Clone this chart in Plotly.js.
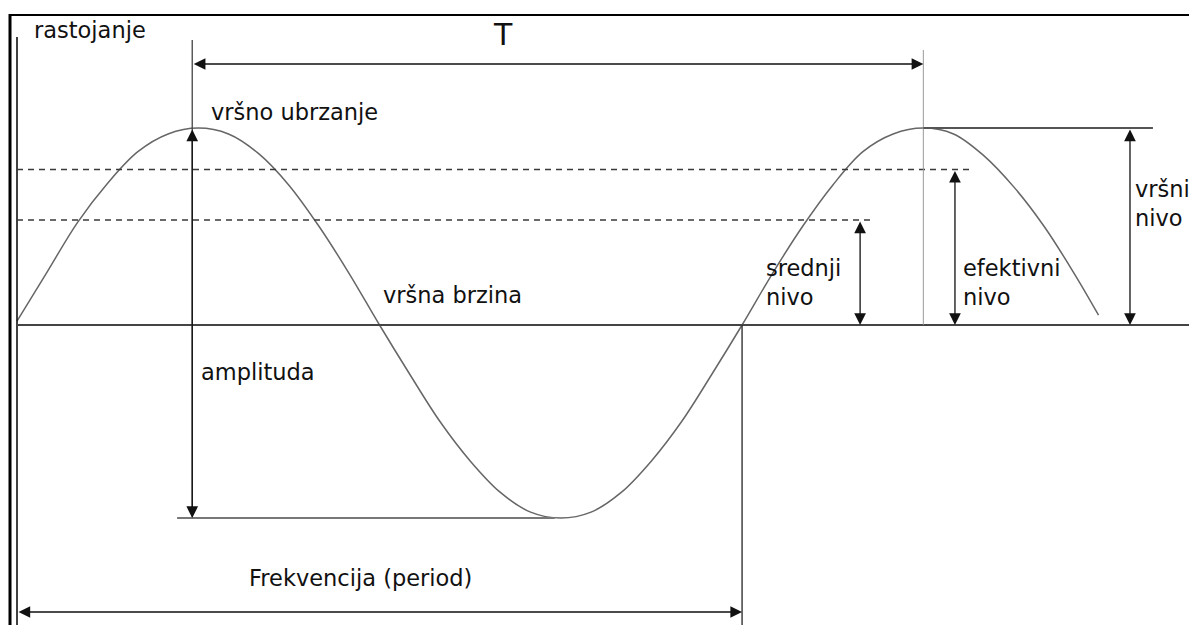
<!DOCTYPE html>
<html>
<head>
<meta charset="utf-8">
<script src="https://cdn.plot.ly/plotly-3.0.1.min.js"></script>
<style>html,body{margin:0;padding:0;background:#fff;}#chart{width:1189px;height:625px;}</style>
</head>
<body>
<div id="chart"></div>
<script>
// ---- data (phase in degrees, displacement in amplitude units) ----
var phase = [0, 15, 30, 45, 60, 75, 90, 105, 120, 135, 150, 165, 180, 195, 210, 225, 240, 255, 270,
             285, 300, 315, 330, 345, 360, 375, 390, 405, 420, 435, 450, 465, 480, 495, 510, 525, 537];
var displacement = [0.02, 0.27, 0.52, 0.72, 0.88, 0.97, 1.0, 0.97, 0.87, 0.71, 0.5, 0.26, 0, -0.25, -0.49, -0.69, -0.85, -0.95, -0.98,
                    -0.95, -0.85, -0.69, -0.49, -0.25, 0, 0.26, 0.5, 0.71, 0.88, 0.97, 1.0, 0.97, 0.86, 0.7, 0.5, 0.26, 0.05];

var peakLevel = 1.0;        // vršni nivo
var rmsLevel = 0.79;        // efektivni nivo
var meanLevel = 0.533;      // srednji nivo
var troughLevel = -0.98;

var periodStart = 0;        // degrees
var periodEnd = 360;
var peakPhase1 = 87;
var peakPhase2 = 450;

var labelTexts = ['rastojanje', 'T', 'vršno ubrzanje', 'vršna brzina', 'amplituda',
                  'Frekvencija (period)', 'srednji<br>nivo', 'efektivni<br>nivo', 'vršni<br>nivo'];

// ---- layout helpers ----
var W = 1189, H = 625;
var xRange = [-8.44, 581.9];
var yRange = [-1.523, 1.650];
function px(xp) { return xp / W; }
function py(yp) { return 1 - yp / H; }

var ink = '#111';
var lineCol = '#3a3a3a';

var trace = {
  x: phase, y: displacement, type: 'scatter', mode: 'lines',
  line: {shape: 'spline', smoothing: 1.0, color: '#666', width: 1.5},
  hoverinfo: 'skip'
};

function seg(x0, y0, x1, y1, color, width, dash) {
  return {type: 'line', xref: 'x', yref: 'y', x0: x0, y0: y0, x1: x1, y1: y1,
          line: {color: color, width: width, dash: dash || 'solid'}, layer: 'above'};
}

var tArrowY = 1.325, topRefY = 1.447, guide2Top = 1.396, yAxisTop = 1.462;
var freqArrowY = -1.457;
var rmsEnd = 474.7, meanEnd = 425, peakLineEnd = 564;
var srednjiX = 418.6, efektivniX = 465.7, vrsniX = 552.6;
var troughLineStart = 79.5, troughLineEnd = 267;

var shapes = [
  // frame
  {type: 'line', xref: 'paper', yref: 'paper', x0: px(10), x1: px(10), y0: 0, y1: py(14), line: {color: '#000', width: 3}},
  {type: 'line', xref: 'paper', yref: 'paper', x0: px(9), x1: 1, y0: py(15), y1: py(15), line: {color: '#000', width: 2}},
  // vertical axis
  seg(periodStart, yAxisTop, periodStart, yRange[0], '#111', 1.6),
  // baseline
  seg(periodStart, 0, xRange[1], 0, '#444', 2),
  // dashed reference levels
  seg(periodStart, rmsLevel, rmsEnd, rmsLevel, lineCol, 1.5, '6px,5px'),
  seg(periodStart, meanLevel, meanEnd, meanLevel, lineCol, 1.5, '6px,5px'),
  // amplitude guide line
  seg(peakPhase1, topRefY, peakPhase1, troughLevel, '#444', 1.3),
  // trough level
  seg(troughLineStart, troughLevel, troughLineEnd, troughLevel, '#777', 2),
  // second peak guide
  seg(peakPhase2, guide2Top, peakPhase2, 0, '#999', 1),
  seg(peakPhase2, peakLevel, peakLineEnd, peakLevel, '#555', 2),
  // end of period guide
  seg(periodEnd, 0, periodEnd, yRange[0], '#333', 1.4)
];

function dblArrow(x0, y0, x1, y1) {
  return {x: x1, y: y1, ax: x0, ay: y0, xref: 'x', yref: 'y', axref: 'x', ayref: 'y',
          text: '', showarrow: true, arrowhead: 2, startarrowhead: 2,
          arrowsize: 1.8, startarrowsize: 1.8, arrowwidth: 1.3, arrowcolor: '#111',
          arrowside: 'end+start', standoff: 0, startstandoff: 0};
}

var annotations = [
  dblArrow(peakPhase1, tArrowY, peakPhase2, tArrowY),
  dblArrow(peakPhase1, peakLevel, peakPhase1, troughLevel),
  dblArrow(srednjiX, meanLevel, srednjiX, 0),
  dblArrow(efektivniX, rmsLevel, efektivniX, 0),
  dblArrow(vrsniX, peakLevel, vrsniX, 0),
  dblArrow(periodStart, freqArrowY, periodEnd, freqArrowY)
];

var labelPos = [
  [33, 30, 'left', 22.5],
  [503, 34, 'center', 30],
  [210, 112, 'left', 22.5],
  [382, 295, 'left', 22.5],
  [200, 372, 'left', 22.5],
  [248, 578, 'left', 22.5],
  [765, 282, 'left', 22.5],
  [962, 282, 'left', 22.5],
  [1134, 203, 'left', 22.5]
];

labelTexts.forEach(function (t, i) {
  var p = labelPos[i];
  annotations.push({
    text: t, xref: 'paper', yref: 'paper', x: px(p[0]), y: py(p[1]),
    xanchor: p[2], yanchor: 'middle', showarrow: false, align: 'left',
    font: {family: 'DejaVu Sans', size: p[3], color: ink},
    bgcolor: 'rgba(0,0,0,0)', borderpad: 0
  });
});

var layout = {
  width: W, height: H,
  margin: {l: 0, r: 0, t: 0, b: 0, pad: 0},
  paper_bgcolor: '#fff', plot_bgcolor: '#fff',
  showlegend: false,
  xaxis: {range: xRange, visible: false, fixedrange: true},
  yaxis: {range: yRange, visible: false, fixedrange: true},
  shapes: shapes,
  annotations: annotations
};

Plotly.newPlot('chart', [trace], layout, {displayModeBar: false, staticPlot: true});
</script>
</body>
</html>
